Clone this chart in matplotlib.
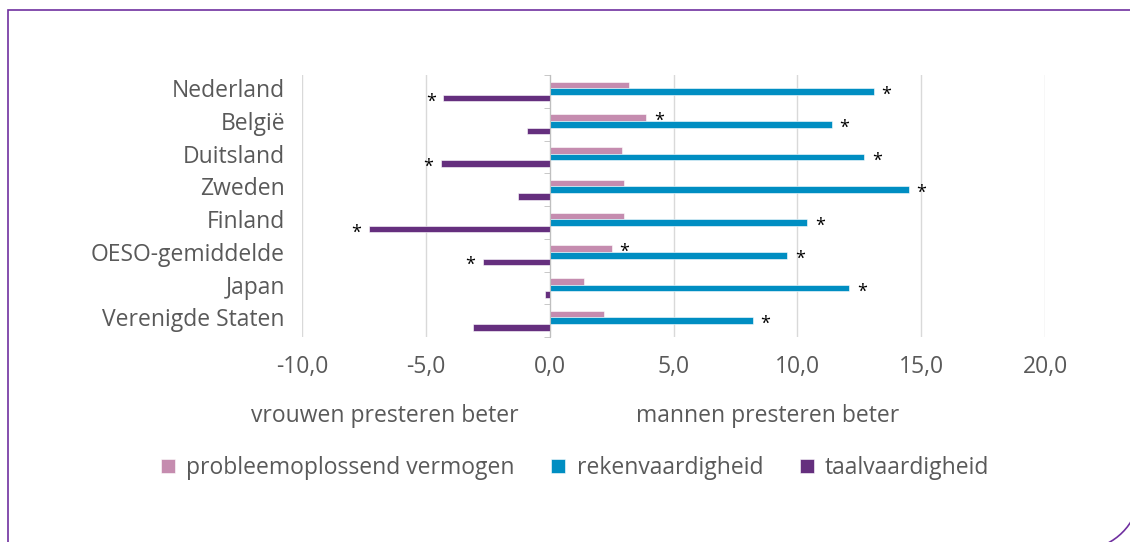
import numpy as np
import matplotlib.pyplot as plt
from matplotlib.path import Path
from matplotlib.patches import PathPatch
from matplotlib.transforms import blended_transform_factory

plt.rcParams['font.family'] = ['Open Sans', 'DejaVu Sans']

# data
landen = ['Nederland', 'België', 'Duitsland', 'Zweden', 'Finland',
          'OESO-gemiddelde', 'Japan', 'Verenigde Staten']
probleem = [3.2, 3.9, 2.9, 3.0, 3.0, 2.5, 1.4, 2.2]
reken = [13.1, 11.4, 12.7, 14.5, 10.4, 9.6, 12.1, 8.2]
taal = [-4.3, -0.9, -4.4, -1.3, -7.3, -2.7, -0.2, -3.1]
# significant verschil (*)
sig_probleem = [False, True, False, False, False, True, False, False]
sig_reken = [True, True, True, True, True, True, True, True]
sig_taal = [True, False, True, False, True, True, False, False]

reeksen = ['probleemoplossend vermogen', 'rekenvaardigheid', 'taalvaardigheid']
kleuren = ['#C58CAF', '#008EC2', '#652F7E']
tekst = '#595959'
fs = 16.5

fig = plt.figure(figsize=(11.3, 5.42), dpi=100)
ax = fig.add_axes([0.2673, 0.378, 0.6575, 0.4834])

y = np.arange(len(landen))
h = 0.2
bars = []
for k, (vals, sig) in enumerate(zip([probleem, reken, taal],
                                    [sig_probleem, sig_reken, sig_taal])):
    pos = y + (k - 1) * h
    b = ax.barh(pos, vals, h, color=kleuren[k], edgecolor='white',
                linewidth=0.4, label=reeksen[k], zorder=3)
    bars.append(b)
    for v, p, s in zip(vals, pos, sig):
        if s:
            ax.annotate('*', (v, p), xytext=(9 if v > 0 else -9, -2.5),
                        textcoords='offset points', ha='center', va='center',
                        fontsize=13, color='black', zorder=4)

ax.set_xlim(-10, 20)
ax.set_ylim(len(landen) - 0.5, -0.5)
ax.set_xticks(range(-10, 21, 5))
ax.set_xticklabels([f'{v:.1f}'.replace('.', ',') for v in range(-10, 21, 5)])
ax.tick_params(axis='x', length=0, pad=13, labelsize=fs, labelcolor=tekst)
ax.grid(axis='x', color='#D9D9D9', linewidth=1, zorder=0)

# category axis at zero with small ticks between categories
for s in ['top', 'right', 'bottom']:
    ax.spines[s].set_visible(False)
ax.spines['left'].set_position(('data', 0))
ax.spines['left'].set_color('#BFBFBF')
ax.spines['left'].set_zorder(5)
ax.set_yticks([])
ax.set_yticks(np.arange(-0.5, len(landen)), minor=True)
ax.tick_params(axis='y', which='minor', length=4, color='#BFBFBF', direction='out')
ax.yaxis.set_minor_formatter(plt.NullFormatter())

trans = blended_transform_factory(ax.transAxes, ax.transData)
for i, land in enumerate(landen):
    ax.text(-0.023, i - 0.01, land, transform=trans, ha='right', va='center',
            fontsize=fs, color=tekst)

fig.text(0.3407, 0.232, 'vrouwen presteren beter', ha='center', va='center',
         fontsize=fs, color=tekst)
fig.text(0.6796, 0.232, 'mannen presteren beter', ha='center', va='center',
         fontsize=fs, color=tekst)

fig.legend(bars, reeksen, loc='center', bbox_to_anchor=(0.509, 0.136), ncol=3,
           frameon=False, fontsize=fs, labelcolor=tekst, handlelength=0.6,
           handleheight=0.6, handletextpad=0.5, columnspacing=1.6)

# purple frame, rounded bottom-right corner
W, H = 1130, 542
r = 60
cx, cy = 1140 - r, 550 - r
hoek = np.linspace(0, np.pi / 2, 20)
rand = [(8, 560), (8, 10), (1140, 10), (1140, cy)]
rand += [(cx + r * np.cos(t), cy + r * np.sin(t)) for t in hoek]
verts = [(px / W, 1 - py / H) for px, py in rand]
fig.add_artist(PathPatch(Path(verts), fill=False, edgecolor='#7030A0',
                         linewidth=1.2, transform=fig.transFigure, clip_on=False))

fig.savefig('out.png', dpi=100)
